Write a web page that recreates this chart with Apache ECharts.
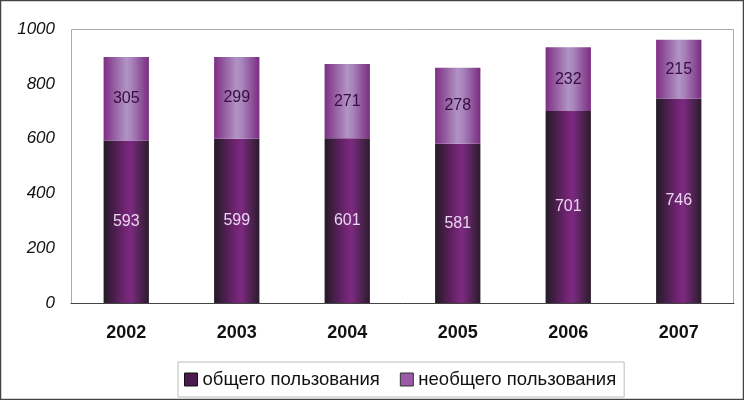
<!DOCTYPE html>
<html><head><meta charset="utf-8">
<script src="https://cdn.jsdelivr.net/npm/echarts@6/dist/echarts.min.js"></script>
<style>html,body{margin:0;padding:0;background:#fff}#c{width:744px;height:400px}</style>
</head><body><div id="c"></div>
<script>
const categories = ['2002','2003','2004','2005','2006','2007'];
const publicUse = [593, 599, 601, 581, 701, 746];
const nonPublicUse = [305, 299, 271, 278, 232, 215];
const yTicks = [0, 200, 400, 600, 800, 1000];
const seriesNames = ['общего пользования', 'необщего пользования'];

const darkGrad = {type:'linear',x:0,y:0,x2:1,y2:0,colorStops:[
  {offset:0,color:'#241a26'},{offset:0.45,color:'#6e2370'},{offset:0.6,color:'#7c2a80'},{offset:1,color:'#2a1c2c'}]};
const lightGrad = {type:'linear',x:0,y:0,x2:1,y2:0,colorStops:[
  {offset:0,color:'#7e2e84'},{offset:0.5,color:'#b094c4'},{offset:0.62,color:'#a884bc'},{offset:1,color:'#7a2c80'}]};

const chart = echarts.init(document.getElementById('c'));
chart.setOption({
  animation:false,
  backgroundColor:'#fff',
  graphic:[
    {type:'rect',shape:{x:0.5,y:0.5,width:743,height:399},style:{fill:'none',stroke:'#444',lineWidth:1.5},z:-1},
    {type:'rect',shape:{x:71.5,y:29.5,width:662,height:274},style:{fill:'none',stroke:'#aaa',lineWidth:1},z:-1}
  ],
  grid:{left:71,top:29,right:10,bottom:97,containLabel:false},
  legend:{
    bottom:3,left:178,icon:'rect',
    itemWidth:13,itemHeight:13,itemGap:20,
    borderColor:'#bbb',borderWidth:1,padding:[8,8,8,6],
    textStyle:{fontFamily:'Liberation Sans, Arial',fontSize:18.5,color:'#111'},
    data:[
      {name:seriesNames[0],itemStyle:{color:'#4a1a4e',borderColor:'#111',borderWidth:1}},
      {name:seriesNames[1],itemStyle:{color:'#9a5aa8',borderColor:'#333',borderWidth:1}}
    ]
  },
  xAxis:{
    type:'category',data:categories,
    axisLine:{lineStyle:{color:'#444'}},
    axisTick:{show:false},
    axisLabel:{fontFamily:'Liberation Sans, Arial',fontWeight:'bold',fontSize:18,color:'#111',margin:21}
  },
  yAxis:{
    type:'value',min:yTicks[0],max:yTicks[yTicks.length-1],interval:200,
    axisLine:{show:false},axisTick:{show:false},
    splitLine:{show:false},
    axisLabel:{fontFamily:'Liberation Sans, Arial',fontStyle:'italic',fontSize:17,color:'#111',margin:16,
      formatter:function(v){return String(v);}}
  },
  series:[
    {name:seriesNames[0],type:'bar',stack:'a',data:publicUse,barWidth:'41%',
     itemStyle:{color:darkGrad},
     label:{show:true,position:'inside',fontFamily:'Liberation Sans, Arial',fontSize:16,color:'#ead6f0'}},
    {name:seriesNames[1],type:'bar',stack:'a',data:nonPublicUse,barWidth:'41%',
     itemStyle:{color:lightGrad},
     label:{show:true,position:'inside',fontFamily:'Liberation Sans, Arial',fontSize:16,color:'#3a0c40'}}
  ]
});
</script></body></html>
